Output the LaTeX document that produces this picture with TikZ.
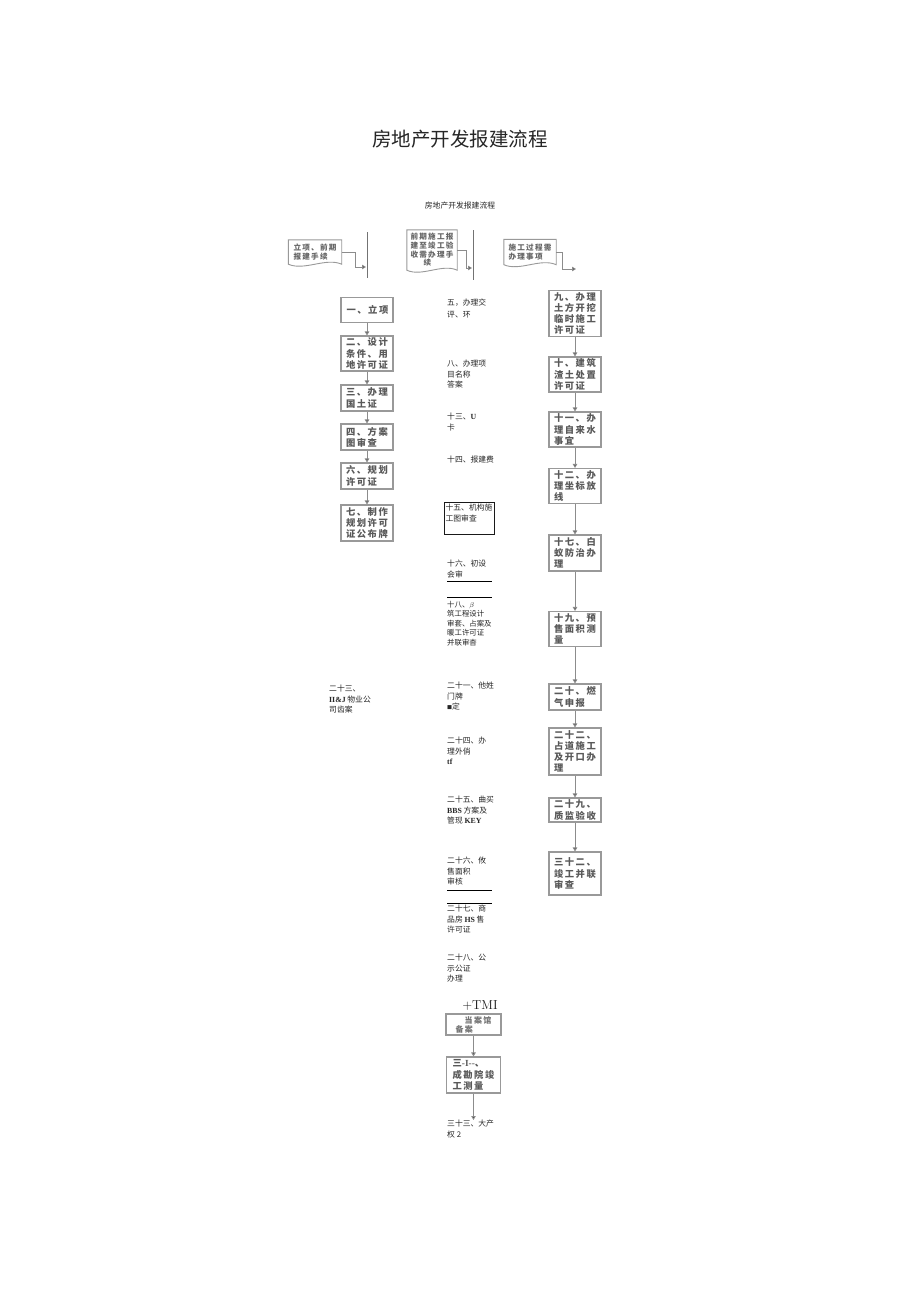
\documentclass[tikz,border=0pt]{standalone}
\usepackage{fontspec}
\usetikzlibrary{arrows.meta,calc}
\newfontfamily\cjk{Noto Sans CJK SC}
\newfontfamily\cjksp[LetterSpace=16]{Noto Sans CJK SC}
\newfontfamily\latb{Liberation Serif}
\newcommand\lt[1]{{\latb\bfseries #1}}
\tikzset{
  boxc/.style={draw=black!40, line width=1.1pt, minimum width=52pt, inner sep=1.5pt, align=left,
    text=black!65, font=\cjksp\bfseries\fontsize{9.3}{11.2}\selectfont},
  hdtext/.style={inner sep=1pt, align=left, text=black!60, font=\cjksp\bfseries\fontsize{7.6}{9}\selectfont},
  hdline/.style={draw=black!40, line width=0.9pt},
  mid/.style={anchor=north west, inner sep=0pt, align=left, text=black!85, font=\cjk\fontsize{7.8}{10.5}\selectfont},
  lane/.style={draw=black!55, line width=0.9pt},
  arr/.style={draw=black!45, line width=0.9pt, -{Triangle[length=4pt,width=4.5pt,fill=black!80]}},
  rule/.style={draw=black, line width=0.8pt}
}
\begin{document}
\begin{tikzpicture}[x=1pt,y=-1pt]
\useasboundingbox[fill=white] (0,0) rectangle (920,1301);
% titles
\node[font=\cjk\fontsize{19.5}{20}\selectfont, text=black!85] (title) at (460,139) {房地产开发报建流程};
\node[font=\cjk\fontsize{7.8}{8}\selectfont, text=black!85] (sub) at (460,206) {房地产开发报建流程};

% header document shapes
\node[hdtext, minimum width=53pt, minimum height=24pt] (h1) at (315,252) {立项、前期\\报建手续};
\draw[hdline] (h1.north west) -- (h1.north east) -- (h1.south east)
  .. controls +(-16,-7) and +(16,7) .. (h1.south west) -- cycle;
\node[hdtext, minimum width=50pt, minimum height=40pt] (h2) at (432,250) {前期施工报\\建至竣工验\\收需办理手\\[-1pt]\hspace*{13pt}续};
\draw[hdline] (h2.north west) -- (h2.north east) -- (h2.south east)
  .. controls +(-15,-7) and +(15,7) .. (h2.south west) -- cycle;
\node[hdtext, minimum width=52pt, minimum height=25pt] (h3) at (530,252) {施工过程需\\办理事项};
\draw[hdline] (h3.north west) -- (h3.north east) -- (h3.south east)
  .. controls +(-16,-7) and +(16,7) .. (h3.south west) -- cycle;

% swim-lane lines
\coordinate (v1t) at (367,232); \coordinate (v1b) at (367,278);
\coordinate (v2t) at (473,230); \coordinate (v2b) at (473,280);
\draw[lane] (v1t) -- (v1b);
\draw[lane] (v2t) -- (v2b);
\coordinate (k1) at (355,267); \coordinate (e1) at (366,267);
\coordinate (k2) at (466,268); \coordinate (e2) at (472,268);
\coordinate (k3) at (562,269); \coordinate (e3) at (576,269);
\draw[arr] (h1.east) -| (k1) -- (e1);
\draw[arr] (h2.east) -| (k2) -- (e2);
\draw[arr] (h3.east) -| (k3) -- (e3);

% left column
\node[boxc, minimum height=25pt] (L1) at (367,310) {\hspace*{1pt}一、立项};
\node[boxc, minimum height=35pt] (L2) at (367,353.5) {二、设计\\条件、用\\地许可证};
\node[boxc, minimum height=26pt] (L3) at (367,398) {三、办理\\国土证};
\node[boxc, minimum height=26pt] (L4) at (367,437) {四、方案\\图审查};
\node[boxc, minimum height=26pt] (L6) at (367,476) {六、规划\\许可证};
\node[boxc, minimum height=36pt] (L7) at (367,523) {七、制作\\规划许可\\证公布牌};
\draw[arr] (L1) -- (L2);
\draw[arr] (L2) -- (L3);
\draw[arr] (L3) -- (L4);
\draw[arr] (L4) -- (L6);
\draw[arr] (L6) -- (L7);

% right column
\node[boxc, minimum height=45pt] (R9) at (575,313.5) {九、办理\\土方开挖\\临时施工\\许可证};
\node[boxc, minimum height=35pt] (R10) at (575,374.5) {十、建筑\\渣土处置\\许可证};
\node[boxc, minimum height=35pt] (R11) at (575,429.5) {十一、办\\理自来水\\事宜};
\node[boxc, minimum height=35pt] (R12) at (575,486) {十二、办\\理坐标放\\线};
\node[boxc, minimum height=36pt] (R17) at (575,553) {十七、白\\蚁防治办\\理};
\node[boxc, minimum height=35pt] (R19) at (575,629) {十九、预\\售面积测\\量};
\node[boxc, minimum height=26pt] (R20) at (575,697) {二十、燃\\气申报};
\node[boxc, minimum height=47pt] (R22) at (575,751.5) {二十二、\\占道施工\\及开口办\\理};
\node[boxc, minimum height=24pt] (R29) at (575,810) {二十九、\\质监验收};
\node[boxc, minimum height=43pt] (R32) at (575,873.5) {三十二、\\竣工并联\\审查};
\draw[arr] (R9) -- (R10);
\draw[arr] (R10) -- (R11);
\draw[arr] (R11) -- (R12);
\draw[arr] (R12) -- (R17);
\draw[arr] (R17) -- (R19);
\draw[arr] (R19) -- (R20);
\draw[arr] (R20) -- (R22);
\draw[arr] (R22) -- (R29);
\draw[arr] (R29) -- (R32);

% middle column texts
\node[mid, font=\cjk\fontsize{7.8}{12}\selectfont] (t5) at (447,299) {五，办理交\\评、环};
\node[mid] (t8) at (447,360) {八、办理项\\目名称\\答案};
\node[mid] (t13) at (447,413) {十三、\lt{U}\\卡};
\node[mid] (t14) at (447,456) {十四、报建费};
\node[draw=black!90, line width=0.7pt, minimum width=50pt, minimum height=31pt, inner sep=1.5pt,
  align=left, text=black!85, font=\cjk\fontsize{7.8}{11}\selectfont] (t15) at (469,518.5) {十五、机构施\\工图审查\\\mbox{}};
\node[mid] (t16) at (447,560) {十六、初设\\会审};
\coordinate (r1a) at (447,581); \coordinate (r1b) at (492,581);
\draw[rule] (r1a) -- (r1b);
\coordinate (r2a) at (447,597); \coordinate (r2b) at (492,597);
\draw[rule] (r2a) -- (r2b);
\node[mid, font=\cjk\fontsize{7.4}{9.5}\selectfont] (t18) at (447,601) {十八、$\beta$\\筑工程设计\\审套、占案及\\暖工许可证\\并联审杳};
\node[mid] (t21) at (447,682) {二十一、他姓\\门牌\\{\fontsize{5}{5}\selectfont ■}定};
\node[mid] (t24) at (447,737) {二十四、办\\理外俏\\\lt{tf}};
\node[mid] (t25) at (447,796) {二十五、曲买\\\lt{BBS} 方案及\\管现 \lt{KEY}};
\node[mid] (t26) at (447,857) {二十六、攸\\售面积\\审核};
\coordinate (r3a) at (447,890); \coordinate (r3b) at (492,890);
\draw[rule] (r3a) -- (r3b);
\coordinate (r4a) at (447,903); \coordinate (r4b) at (492,903);
\draw[rule] (r4a) -- (r4b);
\node[mid] (t27) at (447,905) {二十七、商\\品房 \lt{HS} 售\\许可证};
\node[mid] (t28) at (447,954) {二十八、公\\示公证\\办理};
\node[mid, font=\cjk\fontsize{7.8}{10.5}\selectfont] (t23) at (329,685) {二十三、\\\lt{II\&J} 物业公\\司齿案};

% bottom group
\node[boxc, minimum width=55pt, minimum height=21pt, text=black!55, font=\cjksp\bfseries\fontsize{8}{9}\selectfont] (bT) at (473.5,1024.5) {\hspace*{9pt}当案馆\\备案};
\node[inner sep=0pt, text=black!90, font=\fontsize{13}{13}\selectfont] (tmi) at (480,1006) {+TMI};
\node[boxc, minimum width=54pt, minimum height=36pt] (b31) at (473.5,1075) {三\lt{-I--}、\\成勘院竣\\工测量};
\node[mid] (t33) at (447,1120) {三十三、大产\\权 2};
\draw[arr] (bT) -- (b31);
\draw[arr] (b31.south) -- (b31.south |- t33.north);
\end{tikzpicture}
\end{document}
